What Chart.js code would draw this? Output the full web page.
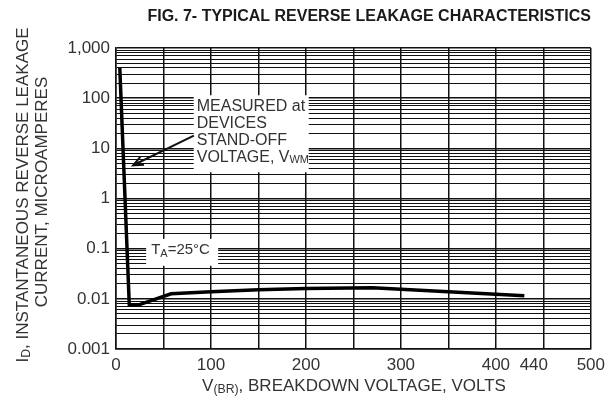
<!DOCTYPE html>
<html>
<head>
<meta charset="utf-8">
<script src="https://cdn.jsdelivr.net/npm/chart.js@4"></script>
<style>
  html, body { margin: 0; padding: 0; background: #fff; }
  #wrap { width: 611px; height: 403px; }
</style>
</head>
<body>
<div id="wrap"><canvas id="grafica" width="611" height="403"></canvas></div>
<script>
// valores
const voltage = [4, 14, 24, 58, 100, 150, 200, 270, 350, 430];
const leakage = [400, 0.0075, 0.0076, 0.0126, 0.0138, 0.0151, 0.016, 0.0166, 0.0138, 0.0115];
const xTicks = [0, 50, 100, 150, 200, 250, 300, 350, 400, 440, 450, 500];
const xLabels = [0, 100, 200, 300, 400, 440, 500];
const yDecades = [0.001, 0.01, 0.1, 1, 10, 100, 1000];
const yLabels = ['0.001', '0.01', '0.1', '1', '10', '100', '1,000'];

const FONT = '"Liberation Sans", Arial, sans-serif';
const INK = '#333';

// texto con subindices: partes [texto, esSub]
function drawParts(ctx, parts, x, y, size) {
  let total = 0;
  parts.forEach(p => {
    ctx.font = (p[1] ? size * 0.72 : size) + 'px ' + FONT;
    total += ctx.measureText(p[0]).width;
  });
  let cx = x - total / 2;
  ctx.textAlign = 'left';
  ctx.textBaseline = 'middle';
  parts.forEach(p => {
    ctx.font = (p[1] ? size * 0.72 : size) + 'px ' + FONT;
    ctx.fillText(p[0], cx, p[1] ? y + size * 0.22 : y);
    cx += ctx.measureText(p[0]).width;
  });
}

const textos = {
  id: 'textos',
  afterDraw(chart) {
    const ctx = chart.ctx;
    const xs = chart.scales.x, ys = chart.scales.y;
    ctx.save();
    ctx.fillStyle = '#1a1a1a';
    ctx.font = 'bold 16px ' + FONT;
    ctx.textAlign = 'right';
    ctx.textBaseline = 'middle';
    ctx.fillText('FIG. 7- TYPICAL REVERSE LEAKAGE CHARACTERISTICS', 591, 17);

    ctx.fillStyle = INK;
    drawParts(ctx, [['V', false], ['(BR)', true], [', BREAKDOWN VOLTAGE, VOLTS', false]], 354, 386, 17);

    ctx.save();
    ctx.translate(23, 195);
    ctx.rotate(-Math.PI / 2);
    drawParts(ctx, [['I', false], ['D', true], [', INSTANTANEOUS REVERSE LEAKAGE', false]], 0, 0, 17);
    ctx.restore();
    ctx.save();
    ctx.translate(42, 192);
    ctx.rotate(-Math.PI / 2);
    drawParts(ctx, [['CURRENT, MICROAMPERES', false]], 0, 0, 17);
    ctx.restore();

    // nota "MEASURED at ..."
    const bx = xs.getPixelForValue(85), by = ys.getPixelForValue(69);
    ctx.fillStyle = '#fff';
    ctx.fillRect(bx - 3, by - 11, 115, 77);
    // flecha
    const ax = xs.getPixelForValue(82), ay = ys.getPixelForValue(18);
    const tx = xs.getPixelForValue(18), ty = ys.getPixelForValue(4.6);
    ctx.strokeStyle = '#111';
    ctx.lineWidth = 2;
    ctx.beginPath();
    ctx.moveTo(ax, ay);
    ctx.lineTo(tx, ty);
    const ang = Math.atan2(ty - ay, tx - ax);
    ctx.moveTo(tx - 11 * Math.cos(ang - 0.4), ty - 11 * Math.sin(ang - 0.4));
    ctx.lineTo(tx, ty);
    ctx.lineTo(tx - 11 * Math.cos(ang + 0.4), ty - 11 * Math.sin(ang + 0.4));
    ctx.stroke();
    ctx.fillStyle = INK;
    ctx.font = '16px ' + FONT;
    ctx.textAlign = 'left';
    ctx.textBaseline = 'middle';
    ctx.fillText('MEASURED at', bx, by);
    ctx.fillText('DEVICES', bx, by + 17);
    ctx.fillText('STAND-OFF', bx, by + 34);
    ctx.fillText('VOLTAGE, V', bx, by + 51);
    let w = ctx.measureText('VOLTAGE, V').width;
    ctx.font = '11px ' + FONT;
    ctx.fillText('WM', bx + w, by + 54);

    // nota temperatura
    const qx = xs.getPixelForValue(37), qy = ys.getPixelForValue(0.095);
    ctx.fillStyle = '#fff';
    ctx.fillRect(qx - 5, qy - 11, 72, 27);
    ctx.fillStyle = INK;
    ctx.font = '15px ' + FONT;
    ctx.fillText('T', qx, qy);
    w = ctx.measureText('T').width;
    ctx.font = '11px ' + FONT;
    ctx.fillText('A', qx + w, qy + 4);
    const w2 = ctx.measureText('A').width;
    ctx.font = '15px ' + FONT;
    ctx.fillText('=25°C', qx + w + w2, qy);
    ctx.restore();
  }
};

const ctx = document.getElementById('grafica').getContext('2d');
const chart = new Chart(ctx, {
  type: 'line',
  data: {
    datasets: [{
      data: voltage.map((v, i) => ({ x: v, y: leakage[i] })),
      borderColor: '#000',
      borderWidth: 3.5,
      pointRadius: 0,
      fill: false,
      tension: 0
    }]
  },
  options: {
    responsive: false,
    animation: false,
    layout: { padding: { top: 48, right: 20, left: 0, bottom: 0 } },
    plugins: { legend: { display: false }, tooltip: { enabled: false } },
    scales: {
      x: {
        type: 'linear',
        min: 0,
        max: 500,
        afterBuildTicks: s => { s.ticks = xTicks.map(v => ({ value: v })); },
        afterFit: s => { s.height = 54; },
        grid: {
          drawTicks: false,
          color: c => (c.tick && c.tick.value === 440) ? 'rgba(0,0,0,0)' : '#111',
          lineWidth: 1.5
        },
        border: { color: '#111', width: 1.5 },
        ticks: {
          padding: 6,
          color: INK,
          font: { family: FONT, size: 17 },
          maxRotation: 0,
          autoSkip: false,
          callback: v => xLabels.includes(v) ? String(v) : ''
        }
      },
      y: {
        type: 'logarithmic',
        min: 0.001,
        max: 1000,
        afterBuildTicks: s => {
          const t = [];
          yDecades.forEach(d => {
            for (let m = 1; m <= 9; m++) {
              const v = parseFloat((m * d).toPrecision(3));
              if (v <= 1000) t.push({ value: v });
            }
          });
          s.ticks = t;
        },
        afterFit: s => { s.width = 116; },
        grid: {
          drawTicks: false,
          color: '#111',
          lineWidth: c => (c.tick && yDecades.includes(c.tick.value)) ? 1.6 : 1
        },
        border: { color: '#111', width: 1.5 },
        ticks: {
          padding: 6,
          color: INK,
          font: { family: FONT, size: 17 },
          autoSkip: false,
          callback: v => {
            const i = yDecades.indexOf(v);
            return i >= 0 ? yLabels[i] : '';
          }
        }
      }
    }
  },
  plugins: [textos]
});
</script>
</body>
</html>
